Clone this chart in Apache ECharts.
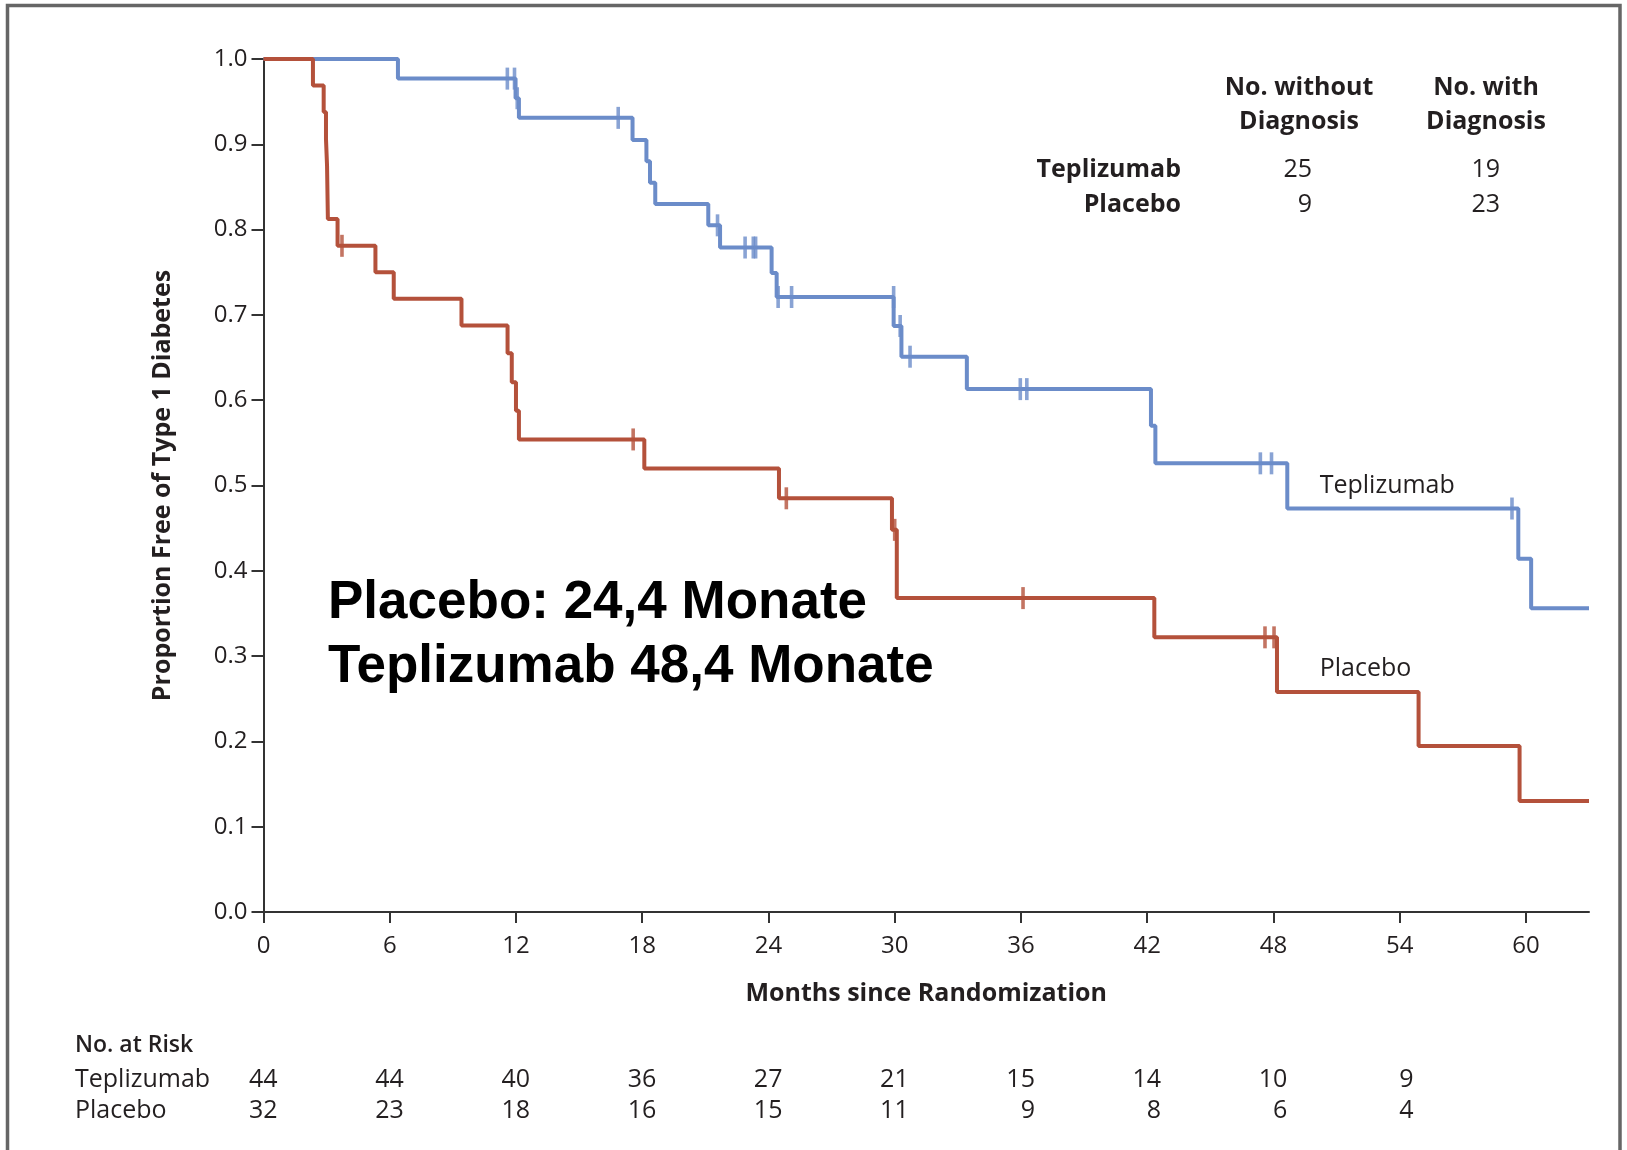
<!DOCTYPE html>
<html>
<head>
<meta charset="utf-8">
<title>Proportion Free of Type 1 Diabetes</title>
<script src="https://cdn.jsdelivr.net/npm/echarts@6/dist/echarts.min.js"></script>
<style>
  html, body { margin: 0; padding: 0; background: #ffffff; }
  #main { width: 1627px; height: 1150px; }
</style>
</head>
<body>
<div id="main"></div>
<script>
// Kaplan-Meier steps [month, proportion free]
const teplizumabSteps = [
  [0, 1.0], [6.39, 0.977], [11.98, 0.954], [12.14, 0.931], [17.54, 0.905],
  [18.2, 0.880], [18.37, 0.855], [18.62, 0.830], [21.14, 0.805], [21.7, 0.779],
  [24.15, 0.749], [24.39, 0.721], [29.95, 0.687], [30.32, 0.651], [33.43, 0.613],
  [42.18, 0.570], [42.39, 0.526], [48.66, 0.473], [59.64, 0.414], [60.25, 0.356],
  [63, 0.356]
];
const placeboSteps = [
  [0, 1.0], [2.35, 0.969], [2.86, 0.938], [2.97, 0.906], [3.02, 0.875],
  [3.06, 0.8125], [3.52, 0.781], [5.32, 0.750], [6.19, 0.719], [9.41, 0.6875],
  [11.6, 0.655], [11.8, 0.621], [12.0, 0.5875], [12.14, 0.554], [18.1, 0.520],
  [24.5, 0.485], [29.87, 0.448], [30.1, 0.368], [42.34, 0.322], [48.17, 0.258],
  [54.9, 0.1945], [59.7, 0.130], [63, 0.130]
];
// censored observations
const teplizumabCensored = [
  [11.59, 0.977], [11.93, 0.977], [12.06, 0.954], [16.86, 0.931], [21.58, 0.805],
  [22.89, 0.779], [23.28, 0.779], [23.39, 0.779], [24.46, 0.721], [25.1, 0.721],
  [29.95, 0.721], [30.26, 0.687], [30.73, 0.651], [35.97, 0.613], [36.28, 0.613],
  [47.38, 0.526], [47.91, 0.526], [59.34, 0.473]
];
const placeboCensored = [
  [3.73, 0.781], [17.57, 0.554], [24.85, 0.485], [30.0, 0.448], [36.1, 0.368],
  [47.6, 0.322], [48.03, 0.322]
];

const monthTicks = [0, 6, 12, 18, 24, 30, 36, 42, 48, 54, 60];
const riskGroups = ['Teplizumab', 'Placebo'];
const riskTeplizumab = [44, 44, 40, 36, 27, 21, 15, 14, 10, 9];
const riskPlacebo = [32, 23, 18, 16, 15, 11, 9, 8, 6, 4];
const withoutDiagnosis = [25, 9];
const withDiagnosis = [19, 23];

const BLUE = '#6b8cc9';
const RED = '#b4513b';
const INK = '#231f20';
const FONT = '"Open Sans", "Noto Sans", sans-serif';

const chart = echarts.init(document.getElementById('main'), null, { renderer: 'canvas' });

let option = {
  backgroundColor: '#ffffff',
  animation: false,
  grid: { left: 263.5, right: 38, top: 59, bottom: 238 },
  xAxis: {
    type: 'value',
    min: 0,
    max: 63,
    interval: 6,
    name: 'Months since Randomization',
    nameLocation: 'middle',
    nameGap: 69,
    nameTextStyle: { fontFamily: FONT, fontSize: 25, fontWeight: 'bold', color: INK },
    splitLine: { show: false },
    axisLine: { lineStyle: { color: '#333333', width: 2 } },
    axisTick: { length: 11, customValues: monthTicks, lineStyle: { color: '#333333', width: 2 } },
    axisLabel: { customValues: monthTicks, margin: 22, fontFamily: FONT, fontSize: 24, color: INK }
  },
  yAxis: {
    type: 'value',
    min: 0,
    max: 1,
    interval: 0.1,
    name: 'Proportion Free of Type 1 Diabetes',
    nameLocation: 'middle',
    nameGap: 88,
    nameTextStyle: { fontFamily: FONT, fontSize: 25, fontWeight: 'bold', color: INK },
    splitLine: { show: false },
    axisLine: { lineStyle: { color: '#333333', width: 2 } },
    axisTick: { length: 12, lineStyle: { color: '#333333', width: 2 } },
    axisLabel: {
      margin: 16,
      fontFamily: FONT,
      fontSize: 24,
      color: INK,
      formatter: function (v) { return v.toFixed(1); }
    }
  },
  series: [{
    name: 'Teplizumab',
    type: 'line',
    step: 'end',
    data: teplizumabSteps,
    symbol: 'none',
    silent: true,
    lineStyle: { color: BLUE, width: 4 },
    z: 3
  }, {
    name: 'Placebo',
    type: 'line',
    step: 'end',
    data: placeboSteps,
    symbol: 'none',
    silent: true,
    lineStyle: { color: RED, width: 4 },
    z: 3
  }, {
    type: 'scatter',
    data: teplizumabCensored,
    symbol: 'rect',
    symbolSize: [3.6, 22],
    silent: true,
    itemStyle: { color: BLUE },
    z: 4
  }, {
    type: 'scatter',
    data: placeboCensored,
    symbol: 'rect',
    symbolSize: [3.6, 22],
    silent: true,
    itemStyle: { color: RED },
    z: 4
  }]
};
chart.setOption(option);

// extra texts, placed from the chart's own scale
function xPx(t) {
  return chart.convertToPixel({ gridIndex: 0 }, [t, 0])[0];
}
function yPx(v) {
  return chart.convertToPixel({ gridIndex: 0 }, [0, v])[1];
}
function txt(x, y, text, opts) {
  return {
    type: 'text',
    x: x,
    y: y,
    silent: true,
    style: Object.assign({
      text: text,
      fontFamily: FONT,
      fontSize: 25,
      fill: INK,
      align: 'left',
      verticalAlign: 'middle'
    }, opts || {})
  };
}

let graphics = [];
// frame
graphics.push({
  type: 'polyline',
  silent: true,
  shape: { points: [[7.5, 1150], [7.5, 5.5], [1620, 5.5], [1620, 1150]] },
  style: { stroke: '#666666', lineWidth: 3.5, fill: null }
});

// No. at Risk table
graphics.push(txt(75, 1045, 'No. at Risk', { fontWeight: 600, fontSize: 23 }));
let riskRows = [riskTeplizumab, riskPlacebo];
let rowY = [1080, 1111];
riskGroups.forEach(function (g, r) {
  graphics.push(txt(75, rowY[r], g));
  riskRows[r].forEach(function (n, i) {
    graphics.push(txt(xPx(monthTicks[i]) + 14, rowY[r], String(n), { align: 'right' }));
  });
});

// diagnosis table top right
graphics.push(txt(1299, 88, 'No. without', { fontWeight: 'bold', align: 'center' }));
graphics.push(txt(1299, 122, 'Diagnosis', { fontWeight: 'bold', align: 'center' }));
graphics.push(txt(1486, 88, 'No. with', { fontWeight: 'bold', align: 'center' }));
graphics.push(txt(1486, 122, 'Diagnosis', { fontWeight: 'bold', align: 'center' }));
let tableY = [170, 205];
riskGroups.forEach(function (g, r) {
  graphics.push(txt(1181, tableY[r], g, { fontWeight: 'bold', align: 'right' }));
  graphics.push(txt(1312, tableY[r], String(withoutDiagnosis[r]), { align: 'right' }));
  graphics.push(txt(1500, tableY[r], String(withDiagnosis[r]), { align: 'right' }));
});

// curve labels
graphics.push(txt(xPx(50.2), yPx(0.5), 'Teplizumab'));
graphics.push(txt(xPx(50.2), yPx(0.285), 'Placebo'));

// overlay annotation
const ANN = '"Liberation Sans", Arial, sans-serif';
graphics.push(txt(328, 603, 'Placebo: 24,4 Monate', { fontFamily: ANN, fontSize: 53, fontWeight: 'bold', fill: '#000000' }));
graphics.push(txt(328, 667, 'Teplizumab 48,4 Monate', { fontFamily: ANN, fontSize: 53, fontWeight: 'bold', fill: '#000000' }));

chart.setOption({ graphic: graphics });
</script>
</body>
</html>
